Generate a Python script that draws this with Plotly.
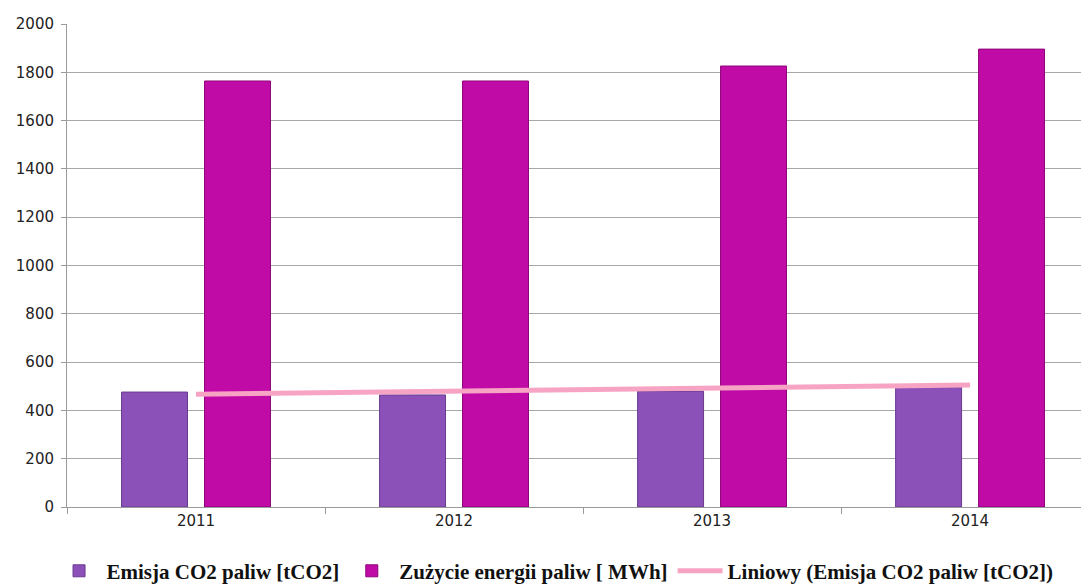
import plotly.graph_objects as go

## data
years = ["2011", "2012", "2013", "2014"]
emisja = [476, 464, 480, 497]          # Emisja CO2 paliw [tCO2]
zuzycie = [1764, 1764, 1826, 1896]     # Zużycie energii paliw [ MWh]
trend_years = ["2011", "2014"]
trend_vals = [467, 505]                # Liniowy (Emisja CO2 paliw [tCO2])
y_ticks = [0, 200, 400, 600, 800, 1000, 1200, 1400, 1600, 1800, 2000]

fig = go.Figure()
fig.add_trace(go.Bar(
    x=years, y=emisja, name="Emisja CO2 paliw [tCO2]",
    marker=dict(color="#8C50B9", line=dict(color="#6A3A8E", width=1)),
))
fig.add_trace(go.Bar(
    x=years, y=zuzycie, name="Zużycie energii paliw [ MWh]",
    marker=dict(color="#C00BA6", line=dict(color="#8E0579", width=1)),
))
fig.add_trace(go.Scatter(
    x=trend_years, y=trend_vals, mode="lines",
    name="Liniowy (Emisja CO2 paliw [tCO2])",
    line=dict(color="#F7A4C4", width=5),
))

# page body has an 8px margin, so the figure is 8px smaller than the window
fig.update_layout(
    width=1081, height=577,
    margin=dict(l=59, r=1, t=16, b=78),
    plot_bgcolor="white", paper_bgcolor="white",
    barmode="group", bargap=0.357, bargroupgap=0.205,
    font=dict(family="DejaVu Sans", size=15, color="#222222"),
    legend=dict(
        orientation="h", x=0.478, xanchor="center",
        yref="container", y=0.024, yanchor="middle",
        font=dict(family="Liberation Serif", size=21, color="#111111", weight="bold"),
        itemwidth=45, tracegroupgap=0,
    ),
    showlegend=True,
)
fig.update_xaxes(
    type="category", range=[-0.5, 3.457], automargin=False,
    showline=True, linecolor="#9A9A9A", linewidth=1,
    ticks="outside", tickson="boundaries", ticklen=6, tickcolor="#9A9A9A",
    showgrid=False, tickfont=dict(size=15),
)
fig.update_yaxes(
    range=[0, 2000], tickvals=y_ticks, automargin=False,
    showline=True, linecolor="#9A9A9A", linewidth=1,
    ticks="outside", ticklen=5, tickcolor="#9A9A9A", ticklabelstandoff=4,
    showgrid=True, gridcolor="#A8A8A8", gridwidth=1,
    zeroline=False, tickfont=dict(size=15),
)

fig.write_html("out.html")
